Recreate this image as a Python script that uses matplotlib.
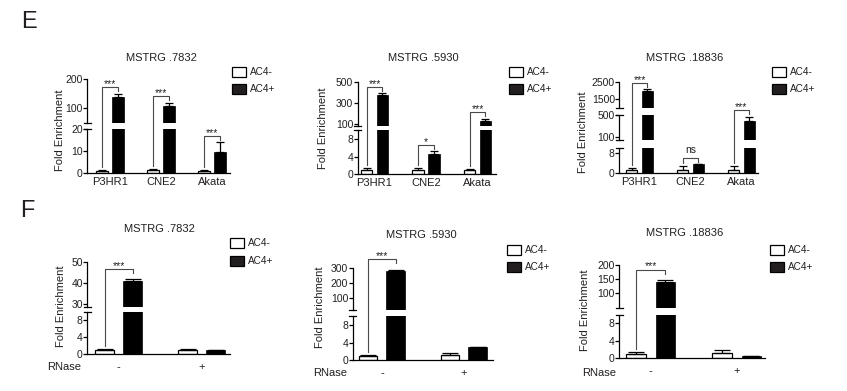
import matplotlib.pyplot as plt
from matplotlib.patches import Rectangle
from matplotlib.lines import Line2D

plt.rcParams['font.family'] = ['Liberation Sans', 'DejaVu Sans']

# ---- values ----
e_cells = ['P3HR1', 'CNE2', 'Akata']
f_rnase = ['-', '+']

e7832_neg = [1.0, 1.2, 1.0]
e7832_neg_err = [0.3, 0.4, 0.3]
e7832_pos = [137, 107, 9.5]
e7832_pos_err = [13, 11, 4.5]
e7832_sig = ['***', '***', '***']

e5930_neg = [1.0, 1.0, 1.0]
e5930_neg_err = [0.5, 0.4, 0.1]
e5930_pos = [379, 4.6, 134]
e5930_pos_err = [16, 0.7, 19]
e5930_sig = ['***', '*', '***']

e18836_neg = [1.2, 1.3, 1.3]
e18836_neg_err = [1.0, 1.5, 1.5]
e18836_pos = [2000, 3.5, 398]
e18836_pos_err = [90, 0.1, 72]
e18836_sig = ['***', 'ns', '***']

f7832_neg = [1.0, 1.0]
f7832_neg_err = [0.1, 0.1]
f7832_pos = [40.8, 0.9]
f7832_pos_err = [1.1, 0.15]

f5930_neg = [1.0, 1.1]
f5930_neg_err = [0.1, 0.6]
f5930_pos = [284, 3.0]
f5930_pos_err = [5, 0.0]

f18836_neg = [1.0, 1.1]
f18836_neg_err = [0.5, 0.7]
f18836_pos = [139, 0.6]
f18836_pos_err = [8, 0.0]

f_sig = ['***', '']

W, H = 847, 391
fig = plt.figure(figsize=(W / 100, H / 100), dpi=100)
fig.patch.set_facecolor('white')
TXT = '#231f20'


def fx(px):
    return px / W


def fy(py):
    return 1 - py / H


def to_px(ax, x, y):
    X, Y = ax.transData.transform((x, y))
    return X, H - Y


def panel(title, labels, neg, neg_err, pos, pos_err, sig, lay):
    x0, x1 = lay['xpx']
    n = len(labels)
    xs = list(range(n))
    off, bw = lay['off'], lay['bw']
    segs = lay['segs']
    axes = []
    for i, (lo, hi, ticks, bpx, tpx) in enumerate(segs):
        ax = fig.add_axes([fx(x0), fy(bpx), (x1 - x0) / W, (bpx - tpx) / H])
        ax.patch.set_alpha(0)
        for s in ['top', 'right']:
            ax.spines[s].set_visible(False)
        ax.spines['left'].set_linewidth(0.9)
        ax.spines['bottom'].set_linewidth(0.9)
        ax.bar([x - off for x in xs], neg, width=bw, color='white',
               edgecolor='black', linewidth=0.9, zorder=2)
        ax.bar([x + off for x in xs], pos, width=bw, color='black',
               edgecolor='black', linewidth=0.5, zorder=2)
        ax.errorbar([x - off for x in xs], neg, yerr=[[0] * n, neg_err], fmt='none',
                    ecolor='black', elinewidth=0.9, capsize=lay['cap'], capthick=0.9, zorder=3)
        ax.errorbar([x + off for x in xs], pos, yerr=[[0] * n, pos_err], fmt='none',
                    ecolor='black', elinewidth=0.9, capsize=lay['cap'], capthick=0.9, zorder=3)
        d = 3.5 / (x1 - x0)
        if i > 0:
            ax.spines['bottom'].set_visible(False)
            ax.plot([-d, d], [0, 0], transform=ax.transAxes, color='black', lw=0.9, clip_on=False)
        if i < len(segs) - 1:
            ax.plot([-d, d], [1, 1], transform=ax.transAxes, color='black', lw=0.9, clip_on=False)
        ax.set_xlim(*lay['xlim'])
        ax.set_ylim(lo, hi)
        ax.set_yticks(ticks)
        ax.set_yticklabels([str(t) for t in ticks])
        ax.tick_params(axis='y', length=2.6, width=0.9, pad=0.6, labelsize=7.5, labelcolor=TXT)
        if i == 0:
            ax.set_xticks(xs)
            ax.set_xticklabels(labels)
            ax.tick_params(axis='x', length=0, pad=lay['xpad'], labelsize=lay['xfs'], labelcolor=TXT)
        else:
            ax.set_xticks([])
        axes.append(ax)

    def seg_ax(v):
        for ax, s in zip(axes, segs):
            if s[0] <= v <= s[1]:
                return ax
        return axes[-1] if v > segs[-1][1] else axes[0]

    # significance brackets
    for i in range(n):
        if not sig[i]:
            continue
        lv = neg[i] + neg_err[i]
        rv = pos[i] + pos_err[i]
        lx, ly = to_px(seg_ax(lv), i - off, lv)
        rx, ry = to_px(seg_ax(rv), i + off, rv)
        top = min(ly, ry) - lay['bgap']
        lbot = ly - 3 if sig[i] != 'ns' else top + 5
        px_x = [lx, lx, rx, rx]
        px_y = [lbot, top, top, top + 4]
        fig.add_artist(Line2D([fx(v) for v in px_x], [fy(v) for v in px_y],
                              color='#4d4848', lw=0.8))
        if sig[i] == 'ns':
            fig.text(fx((lx + rx) / 2), fy(top - 5), sig[i], ha='center', va='baseline',
                     fontsize=7.5, color=TXT)
        else:
            fig.text(fx((lx + rx) / 2), fy(top), sig[i], ha='center', va='baseline',
                     fontsize=7.5, color=TXT)

    tx, ty = lay['title']
    fig.text(fx(tx), fy(ty), title, ha='center', va='center', fontsize=8, color=TXT)
    yx, yy = lay['ylab']
    fig.text(fx(yx), fy(yy), 'Fold Enrichment', ha='center', va='center',
             rotation=90, fontsize=8, color=TXT)
    bx, r1, r2 = lay['leg']
    for ry_, fc, lab in [(r1, 'white', 'AC4-'), (r2, '#231f20', 'AC4+')]:
        fig.add_artist(Rectangle((fx(bx), fy(ry_ + 5)), 13.5 / W, 10 / H, facecolor=fc,
                                 edgecolor='black', lw=0.9, transform=fig.transFigure))
        fig.text(fx(bx + 17.5), fy(ry_), lab, ha='left', va='center', fontsize=7.2, color=TXT)
    if 'rnase' in lay:
        rx_, ry_ = lay['rnase']
        fig.text(fx(rx_), fy(ry_), 'RNase', ha='center', va='center', fontsize=8, color=TXT)


E_STYLE = dict(off=0.155, bw=0.22, cap=3, bgap=6.5, xpad=3, xfs=8)
F_STYLE = dict(off=0.17, bw=0.23, cap=5.5, bgap=10.5, xpad=5.5, xfs=8)

panel('MSTRG .7832', e_cells, e7832_neg, e7832_neg_err, e7832_pos, e7832_pos_err, e7832_sig,
      dict(E_STYLE, xpx=(87.3, 230), xlim=(-0.445, 2.353),
           segs=[(0, 20, [0, 10, 20], 173, 129), (50, 200, [100, 200], 122.5, 79)],
           title=(161, 58), ylab=(60, 130), leg=(232, 72, 89)))

panel('MSTRG .5930', e_cells, e5930_neg, e5930_neg_err, e5930_pos, e5930_pos_err, e5930_sig,
      dict(E_STYLE, xpx=(357.7, 496), xlim=(-0.326, 2.359),
           segs=[(0, 10, [0, 4, 8], 174.3, 130.5), (80, 500, [100, 300, 500], 126.4, 82.3)],
           title=(423, 58), ylab=(323, 128), leg=(509, 72, 89)))

panel('MSTRG .18836', e_cells, e18836_neg, e18836_neg_err, e18836_pos, e18836_pos_err, e18836_sig,
      dict(E_STYLE, xpx=(619.3, 758), xlim=(-0.396, 2.324),
           segs=[(0, 10, [0, 8], 173.3, 147.5), (50, 500, [100, 500], 140, 115),
                 (1000, 2500, [1500, 2500], 107.8, 82.3)],
           title=(685, 58), ylab=(583, 132.5), leg=(772, 72, 89)))

panel('MSTRG .7832', f_rnase, f7832_neg, f7832_neg_err, f7832_pos, f7832_pos_err, f_sig,
      dict(F_STYLE, xpx=(87.3, 230), xlim=(-0.378, 1.341),
           segs=[(0, 10, [0, 4, 8], 354, 311.5), (28.5, 50, [30, 40, 50], 307, 262.3)],
           title=(159, 229.3), ylab=(61, 306), leg=(230, 243.3, 260.7), rnase=(64, 366.7)))

panel('MSTRG .5930', f_rnase, f5930_neg, f5930_neg_err, f5930_pos, f5930_pos_err, f_sig,
      dict(F_STYLE, xpx=(352.7, 493), xlim=(-0.357, 1.354),
           segs=[(0, 10, [0, 4, 8], 360, 316.3), (20, 300, [100, 200, 300], 310.3, 268.3)],
           title=(421.7, 235), ylab=(320, 307.5), leg=(507, 250, 266.7), rnase=(330, 373.3)))

panel('MSTRG .18836', f_rnase, f18836_neg, f18836_neg_err, f18836_pos, f18836_pos_err, f_sig,
      dict(F_STYLE, xpx=(619.3, 765), xlim=(-0.366, 1.328),
           segs=[(0, 10, [0, 4, 8], 358.3, 314.5), (50, 200, [100, 150, 200], 307.6, 265)],
           title=(685, 233.3), ylab=(585, 310), leg=(770, 250, 267.3), rnase=(599, 373.3)))

fig.text(fx(21), fy(22.5), 'E', ha='left', va='center', fontsize=17, color=TXT)
fig.text(fx(20), fy(211), 'F', ha='left', va='center', fontsize=17, color=TXT)

fig.savefig('out.png', dpi=100, facecolor='white')
